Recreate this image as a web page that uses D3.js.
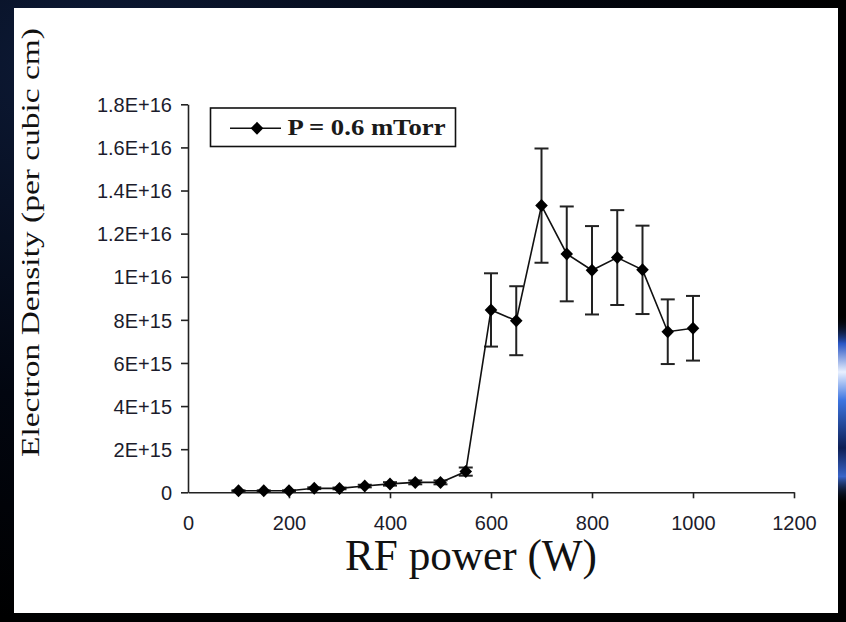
<!DOCTYPE html>
<html>
<head>
<meta charset="utf-8">
<script src="https://cdn.jsdelivr.net/npm/d3@7"></script>
<style>
  html, body { margin: 0; padding: 0; background: #000; }
  svg { display: block; }
</style>
</head>
<body>
<svg id="chart"></svg>
<script>
// density in per cubic cm
let power = [100, 150, 200, 250, 300, 350, 400, 450, 500, 550,
             600, 650, 700, 750, 800, 850, 900, 950, 1000]
let density = [0.07e15, 0.07e15, 0.07e15, 0.19e15, 0.18e15, 0.29e15, 0.39e15, 0.46e15, 0.46e15, 0.96e15,
               8.46e15, 7.96e15, 13.3e15, 11.06e15, 10.3e15, 10.89e15, 10.32e15, 7.45e15, 7.61e15]
let errors = [0.02e15, 0.02e15, 0.02e15, 0.04e15, 0.04e15, 0.06e15, 0.08e15, 0.09e15, 0.09e15, 0.19e15,
              1.7e15, 1.6e15, 2.65e15, 2.2e15, 2.05e15, 2.2e15, 2.05e15, 1.5e15, 1.5e15]

let xTicks = [0, 200, 400, 600, 800, 1000, 1200]
let yTicks = [0, 2e15, 4e15, 6e15, 8e15, 1e16, 1.2e16, 1.4e16, 1.6e16, 1.8e16]
let yTickLabels = ['0', '2E+15', '4E+15', '6E+15', '8E+15', '1E+16', '1.2E+16', '1.4E+16', '1.6E+16', '1.8E+16']

let seriesName = 'P = 0.6 mTorr'
let xTitle = 'RF power (W)'
let yTitle = 'Electron Density (per cubic cm)'

let width = 846
let height = 622

let data = power.map((p, i) => ({ p: p, d: density[i], e: errors[i] }))

let $svg = d3.select('#chart')
    .attr('width', width)
    .attr('height', height)

// backdrop: dark slide with a blue streak on the right edge
let defs = $svg.append('defs')
let bg = defs.append('radialGradient')
    .attr('id', 'bg')
    .attr('cx', '0.1').attr('cy', '0.1').attr('r', '0.9')
bg.append('stop').attr('offset', '0').attr('stop-color', '#0d1a36')
bg.append('stop').attr('offset', '0.6').attr('stop-color', '#020610')
bg.append('stop').attr('offset', '1').attr('stop-color', '#000')

let streak = defs.append('linearGradient')
    .attr('id', 'streak')
    .attr('x1', 0).attr('y1', 0).attr('x2', 0).attr('y2', 1)
streak.append('stop').attr('offset', '0').attr('stop-color', '#000').attr('stop-opacity', 0)
streak.append('stop').attr('offset', '0.15').attr('stop-color', '#2a56c4')
streak.append('stop').attr('offset', '0.3').attr('stop-color', '#e8f0ff')
streak.append('stop').attr('offset', '0.45').attr('stop-color', '#3d74e0')
streak.append('stop').attr('offset', '0.7').attr('stop-color', '#0d1f55')
streak.append('stop').attr('offset', '0.85').attr('stop-color', '#3a64c8')
streak.append('stop').attr('offset', '1').attr('stop-color', '#000').attr('stop-opacity', 0)

$svg.append('rect')
    .attr('width', width)
    .attr('height', height)
    .attr('fill', 'url(#bg)')
$svg.append('rect')
    .attr('x', 838).attr('y', 315)
    .attr('width', 8).attr('height', 190)
    .attr('fill', 'url(#streak)')

// white panel
$svg.append('rect')
    .attr('x', 14).attr('y', 8)
    .attr('width', 824).attr('height', 605)
    .attr('fill', '#fff')

let x = d3.scaleLinear().domain([0, 1200]).range([188, 794])
let y = d3.scaleLinear().domain([0, 1.8e16]).range([492.3, 104.3])

let axisColor = '#222'

// y axis
let yAxis = $svg.append('g')
    .attr('transform', 'translate(' + x(0) + ',0)')
    .call(d3.axisLeft(y)
        .tickValues(yTicks)
        .tickFormat((d, i) => yTickLabels[i])
        .tickSize(7)
        .tickSizeOuter(0)
        .tickPadding(9))
yAxis.select('.domain').attr('stroke', axisColor).attr('stroke-width', 1.6)
yAxis.selectAll('.tick line').attr('stroke', axisColor).attr('stroke-width', 1.6)
yAxis.selectAll('.tick text')
    .attr('fill', '#1c1c2c')
    .attr('font-family', 'Arial, "Liberation Sans", sans-serif')
    .attr('font-size', 20)
    .attr('dy', '0.36em')

// x axis
let xAxis = $svg.append('g')
    .attr('transform', 'translate(0,' + y(0) + ')')
    .call(d3.axisBottom(x)
        .tickValues(xTicks)
        .tickFormat(d3.format('d'))
        .tickSize(6)
        .tickSizeOuter(0)
        .tickPadding(18))
xAxis.select('.domain').attr('stroke', axisColor).attr('stroke-width', 1.6)
xAxis.selectAll('.tick line').attr('stroke', axisColor).attr('stroke-width', 1.6)
xAxis.selectAll('.tick').filter(d => d == 0).select('line').remove()
xAxis.selectAll('.tick text')
    .attr('fill', '#1c1c2c')
    .attr('font-family', 'Arial, "Liberation Sans", sans-serif')
    .attr('font-size', 20)
    .attr('dy', '0.71em')

// axis titles
$svg.append('text')
    .attr('x', 471)
    .attr('y', 570)
    .attr('text-anchor', 'middle')
    .attr('font-family', '"Times New Roman", "Liberation Serif", serif')
    .attr('font-size', 44)
    .attr('fill', '#111')
    .attr('textLength', 252)
    .attr('lengthAdjust', 'spacingAndGlyphs')
    .text(xTitle)

$svg.append('text')
    .attr('transform', 'translate(39,242.5) rotate(-90)')
    .attr('text-anchor', 'middle')
    .attr('font-family', '"Times New Roman", "Liberation Serif", serif')
    .attr('font-size', 26)
    .attr('fill', '#111')
    .attr('textLength', 429)
    .attr('lengthAdjust', 'spacingAndGlyphs')
    .text(yTitle)

let diamond = (cx, cy) => {
    let w = 6.3, h = 6.5
    return 'M' + cx + ',' + (cy - h) + 'L' + (cx + w) + ',' + cy +
        'L' + cx + ',' + (cy + h) + 'L' + (cx - w) + ',' + cy + 'Z'
}

// error bars
let capHalf = 7
let $err = $svg.append('g').attr('class', 'errors')
    .attr('stroke', '#222')
    .attr('stroke-width', 2)
$err.selectAll('line.bar')
    .data(data)
    .enter().append('line')
    .attr('class', 'bar')
    .attr('x1', d => x(d.p)).attr('x2', d => x(d.p))
    .attr('y1', d => y(d.d + d.e)).attr('y2', d => y(d.d - d.e))
$err.selectAll('line.capTop')
    .data(data)
    .enter().append('line')
    .attr('class', 'capTop')
    .attr('x1', d => x(d.p) - capHalf).attr('x2', d => x(d.p) + capHalf)
    .attr('y1', d => y(d.d + d.e)).attr('y2', d => y(d.d + d.e))
$err.selectAll('line.capBottom')
    .data(data)
    .enter().append('line')
    .attr('class', 'capBottom')
    .attr('x1', d => x(d.p) - capHalf).attr('x2', d => x(d.p) + capHalf)
    .attr('y1', d => y(d.d - d.e)).attr('y2', d => y(d.d - d.e))

// series line
let line = d3.line()
    .x(d => x(d.p))
    .y(d => y(d.d))
$svg.append('path')
    .attr('d', line(data))
    .attr('fill', 'none')
    .attr('stroke', '#111')
    .attr('stroke-width', 1.6)

$svg.append('g').selectAll('path')
    .data(data)
    .enter().append('path')
    .attr('d', d => diamond(x(d.p), y(d.d)))
    .attr('fill', '#000')

// legend
let $legend = $svg.append('g').attr('class', 'legend')
$legend.append('rect')
    .attr('x', 210.5).attr('y', 108)
    .attr('width', 245).attr('height', 38.5)
    .attr('fill', '#fff')
    .attr('stroke', '#111')
    .attr('stroke-width', 1.6)
$legend.append('line')
    .attr('x1', 230).attr('x2', 281)
    .attr('y1', 128.3).attr('y2', 128.3)
    .attr('stroke', '#111')
    .attr('stroke-width', 1.6)
$legend.append('path')
    .attr('d', diamond(257, 128.3))
    .attr('fill', '#000')
$legend.append('text')
    .attr('x', 287.5)
    .attr('y', 134.5)
    .attr('font-family', '"Times New Roman", "Liberation Serif", serif')
    .attr('font-size', 23)
    .attr('font-weight', 'bold')
    .attr('fill', '#1a1a1a')
    .attr('textLength', 158)
    .attr('lengthAdjust', 'spacingAndGlyphs')
    .text(seriesName)
</script>
</body>
</html>
